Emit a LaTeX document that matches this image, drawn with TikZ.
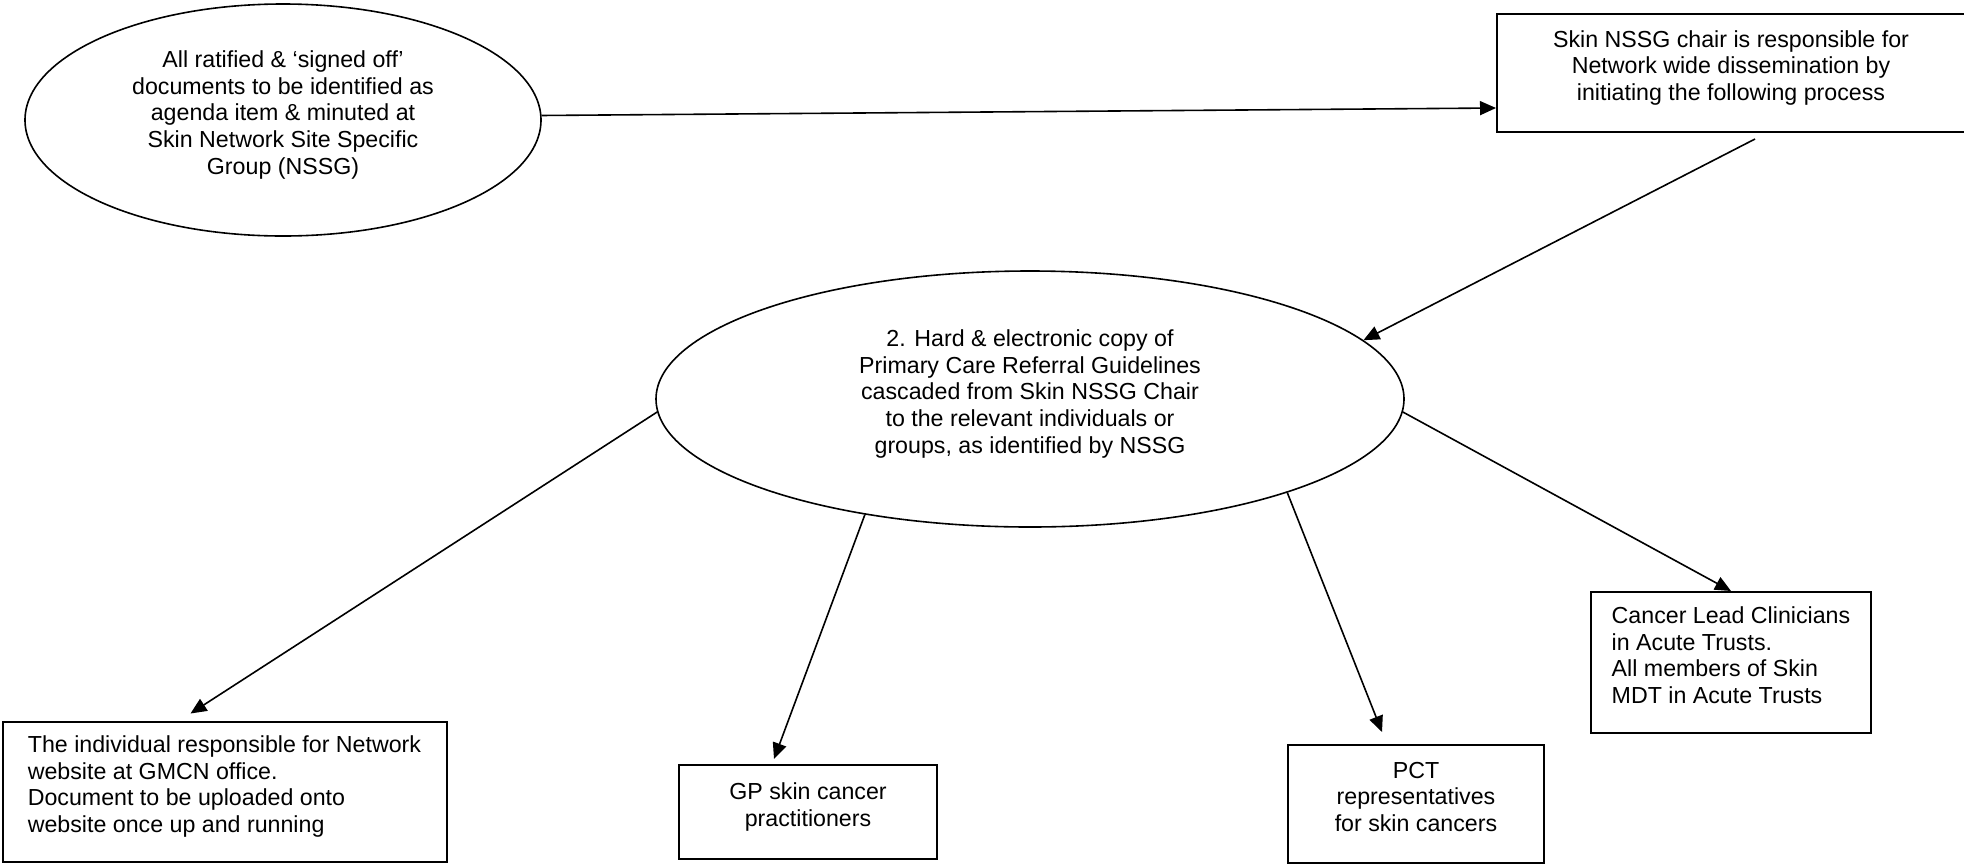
\documentclass[tikz,border=0pt]{standalone}
\usepackage{fontspec}
\setmainfont{Liberation Sans}
\usepackage{tikz}
\usetikzlibrary{arrows.meta, shapes.geometric, calc}

\begin{document}
\begin{tikzpicture}[
    x=0.5pt, y=-0.5pt,
    box/.style={rectangle, draw, line width=1pt, align=center, inner sep=0pt, text depth=7.5pt, font=\fontsize{11.6}{13.3}\selectfont},
    leftbox/.style={box, align=left},
    oval/.style={ellipse, draw, line width=0.8pt, align=center, inner sep=0pt, text depth=7.5pt, font=\fontsize{11.6}{13.3}\selectfont},
    arr/.style={-{Triangle[length=8pt, width=7pt]}, line width=0.8pt}
]
    \useasboundingbox (0,0) rectangle (1964,863);

    % top row
    \node[oval, minimum width=258pt, minimum height=116pt] (ratified) at (283,120)
        {All ratified \& `signed off'\\documents to be identified as\\agenda item \& minuted at\\Skin Network Site Specific\\Group (NSSG)};
    \node[box, minimum width=234pt, minimum height=59pt] (chair) at (1731,73)
        {Skin NSSG chair is responsible for\\Network wide dissemination by\\initiating the following process};

    % cascade
    \node[oval, minimum width=374pt, minimum height=128pt] (cascade) at (1030,399)
        {2. Hard \& electronic copy of\\Primary Care Referral Guidelines\\cascaded from Skin NSSG Chair\\to the relevant individuals or\\groups, as identified by NSSG};

    % recipients
    \node[leftbox, minimum width=222pt, minimum height=70pt] (website) at (224.5,791.5)
        {The individual responsible for Network\\website at GMCN office.\\Document to be uploaded onto\\website once up and running};
    \node[box, minimum width=129pt, minimum height=47pt] (gp) at (808,812)
        {GP skin cancer\\practitioners};
    \node[box, minimum width=128pt, minimum height=59pt] (pct) at (1416,804)
        {PCT\\representatives\\for skin cancers};
    \node[leftbox, minimum width=140pt, minimum height=70.5pt] (cancer) at (1731,662.5)
        {Cancer Lead Clinicians\\in Acute Trusts.\\All members of Skin\\MDT in Acute Trusts};

    \draw[arr] (ratified.1) -- ($(chair.west)+(0,35)$);
    \draw[arr] ($(chair.south)+(24,6)$) -- (cascade.10);
    \draw[arr] (cascade.182) -- ($(website.north)+(-34,-7)$);
    \draw[arr] (cascade.215) -- ($(gp.north)+(-34,-5)$);
    \draw[arr] (cascade.340) -- ($(pct.north)+(-34,-12)$);
    \draw[arr] (cascade.358) -- (cancer.north);
\end{tikzpicture}
\end{document}
